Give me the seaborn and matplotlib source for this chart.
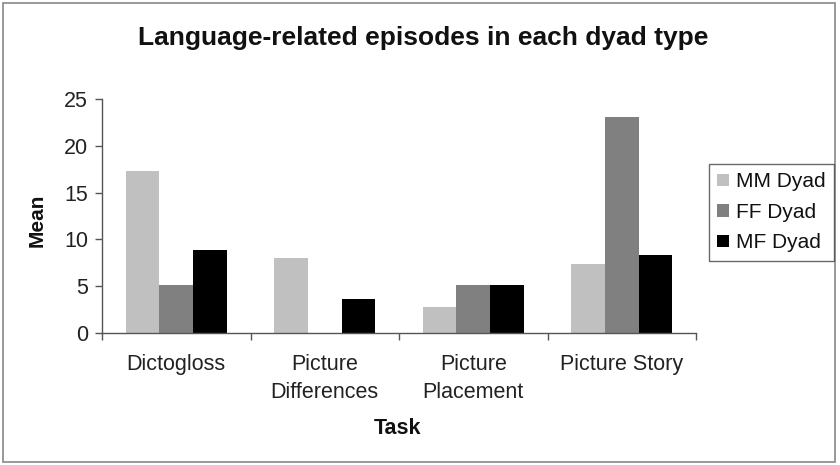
import matplotlib
matplotlib.use("Agg")
import matplotlib.pyplot as plt
import seaborn as sns
import pandas as pd
from matplotlib.patches import Rectangle

tasks = ["Dictogloss", "Picture\nDifferences", "Picture\nPlacement", "Picture Story"]
dyads = ["MM Dyad", "FF Dyad", "MF Dyad"]
mm_values = [17.3, 7.97, 2.77, 7.33]
ff_values = [5.16, 0.0, 5.16, 23.08]
mf_values = [8.85, 3.63, 5.16, 8.32]
colors = ["#c0c0c0", "#808080", "#000000"]
y_ticks = [0, 5, 10, 15, 20, 25]

rows = []
for d, vals in zip(dyads, [mm_values, ff_values, mf_values]):
    for t, v in zip(tasks, vals):
        rows.append({"Task": t, "Dyad": d, "Mean": v})
df = pd.DataFrame(rows)

sns.set_theme(style="white")
plt.rcParams["font.family"] = ["Liberation Sans", "DejaVu Sans"]

fig = plt.figure(figsize=(8.4, 4.65), dpi=100)
fig.patch.set_facecolor("white")
ax = fig.add_axes([102 / 840, 1 - 333 / 465, 594 / 840, 234 / 465])

sns.barplot(data=df, x="Task", y="Mean", hue="Dyad", order=tasks, hue_order=dyads,
            palette=colors, width=0.68, errorbar=None, saturation=1, linewidth=0,
            ax=ax, legend=True)

ax.set_ylim(0, 25)
ax.set_xlim(-0.5, 3.5)
ax.set_yticks(y_ticks)
ax.set_yticklabels([str(v) for v in y_ticks], fontsize=15.5, color="#222222")
ax.set_xticks(range(len(tasks)))
ax.set_xticklabels(tasks, fontsize=15.5, color="#222222", linespacing=1.45)
ax.set_xticks([-0.5, 0.5, 1.5, 2.5, 3.5], minor=True)
ax.tick_params(axis="x", which="major", length=0, pad=15)
ax.tick_params(axis="x", which="minor", length=5, width=1, color="#555555", direction="out", bottom=True)
ax.tick_params(axis="y", which="major", length=5, width=1, color="#555555", direction="out", left=True, pad=5)

for s in ["top", "right"]:
    ax.spines[s].set_visible(False)
for s in ["left", "bottom"]:
    ax.spines[s].set_color("#555555")
    ax.spines[s].set_linewidth(1)

ax.set_xlabel("")
ax.set_ylabel("")
fig.text(398 / 840, 1 - 428 / 465, "Task", ha="center", va="center", fontsize=15.5, fontweight="bold", color="#111111")
fig.text(37 / 840, 1 - 220 / 465, "Mean", ha="center", va="center", rotation=90, fontsize=15, fontweight="bold", color="#111111")
fig.text(423 / 840, 1 - 38 / 465, "Language-related episodes in each dyad type", ha="center", va="center",
         fontsize=19, fontweight="bold", color="#111111")

handles, labels = ax.get_legend_handles_labels()
ax.get_legend().remove()
leg = fig.legend(handles, labels, loc="upper left", bbox_to_anchor=(709 / 840, 1 - 164 / 465),
                 frameon=True, fancybox=False, fontsize=15, handlelength=0.55, handleheight=0.55,
                 handletextpad=0.35, labelspacing=0.55, borderpad=0.4, borderaxespad=0)
leg.get_frame().set_edgecolor("#444444")
leg.get_frame().set_linewidth(1)
for txt in leg.get_texts():
    txt.set_color("#111111")

fig.patches.append(Rectangle((3 / 840, 3 / 465), 832 / 840, 459 / 465, transform=fig.transFigure,
                             fill=False, edgecolor="#888888", linewidth=1.2))

fig.savefig("out.png", dpi=100, facecolor="white")
